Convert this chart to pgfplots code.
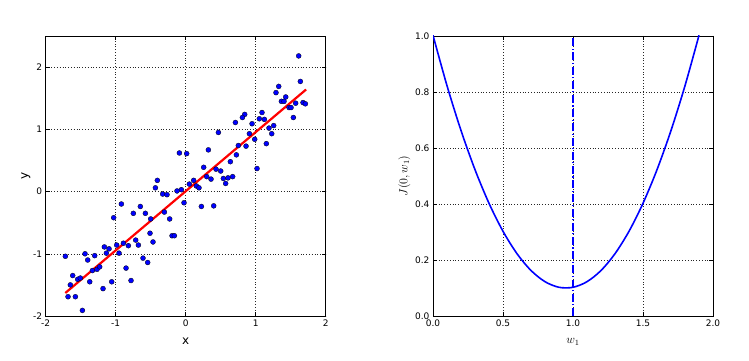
\documentclass[border=0pt]{standalone}
\usepackage[no-math]{fontspec}
\setmainfont{DejaVu Sans}
\usepackage{pgfplots}
\pgfplotsset{compat=1.18}
\begin{document}
\begin{tikzpicture}
\path[use as bounding box] (0,0) rectangle (749pt,361pt);
\pgfplotsset{
  every axis/.append style={
    scale only axis, width=280pt, height=280pt,
    axis line style={black, line width=0.8pt},
    grid=major,
    major grid style={black!85, dash pattern=on 0.8pt off 2pt, line width=0.5pt},
    tick align=inside, tick pos=both,
    major tick length=4pt,
    tick style={black, line width=0.5pt},
    tick label style={font=\fontsize{9}{10}\selectfont},
    label style={font=\fontsize{12}{13}\selectfont},
    /pgf/number format/assume math mode=true,
  }
}
\begin{axis}[
  at={(45.7pt,45pt)}, anchor=south west,
  xmin=-2, xmax=2, ymin=-2, ymax=2.5,
  xtick={-2,-1,0,1,2}, ytick={-2,-1,0,1,2},
  xlabel={x}, ylabel={y},
  xlabel style={yshift=-5pt},
  ylabel style={yshift=-4pt},
]
\addplot[only marks, mark=*, mark size=2.5pt, mark options={fill=blue, draw=black, line width=0.3pt}] coordinates {
(1.614,2.18) (1.638,1.77) (1.329,1.69) (1.290,1.59) (1.429,1.52) (1.367,1.45)
(1.405,1.45) (1.571,1.42) (1.676,1.43) (1.710,1.41) (1.476,1.35) (1.505,1.35)
(1.538,1.19) (1.090,1.27) (1.052,1.17) (1.124,1.16) (0.843,1.24) (0.810,1.19)
(0.710,1.11) (0.948,1.09) (1.257,1.06) (1.190,1.02) (1.229,0.93) (0.910,0.93)
(0.467,0.95) (0.986,0.84) (1.152,0.77) (0.752,0.74) (0.862,0.73) (0.724,0.59)
(0.324,0.67) (-0.090,0.62) (0.014,0.61) (1.019,0.37) (0.638,0.48) (0.257,0.39)
(0.433,0.36) (0.500,0.33) (0.300,0.24) (0.362,0.20) (0.538,0.21) (0.605,0.22)
(0.671,0.24) (0.571,0.13) (0.114,0.18) (-0.405,0.18) (-0.433,0.06) (0.052,0.12)
(0.152,0.09) (0.190,0.06) (-0.062,0.03) (-0.124,0.01)
(-0.329,-0.04) (-0.267,-0.05) (-0.024,-0.18) (0.224,-0.24) (0.400,-0.23)
(-0.919,-0.20) (-0.648,-0.24) (-0.748,-0.35) (-0.576,-0.35) (-0.305,-0.33)
(-1.029,-0.42) (-0.500,-0.44) (-0.229,-0.44) (-0.510,-0.67) (-0.467,-0.81)
(-0.195,-0.71) (-0.162,-0.71) (-0.714,-0.78) (-0.676,-0.86) (-0.819,-0.87)
(-0.986,-0.86) (-0.890,-0.83) (-1.162,-0.89) (-1.095,-0.92) (-1.133,-0.99)
(-0.952,-0.99) (-1.438,-1.00) (-1.300,-1.03) (-1.719,-1.04) (-1.400,-1.10)
(-0.610,-1.07) (-0.543,-1.14) (-0.852,-1.23) (-1.333,-1.27) (-1.267,-1.25)
(-1.229,-1.21) (-1.614,-1.35) (-1.543,-1.41) (-1.505,-1.39) (-1.371,-1.45)
(-1.057,-1.45) (-0.781,-1.43) (-1.648,-1.50) (-1.181,-1.56) (-1.681,-1.69)
(-1.576,-1.69) (-1.476,-1.91)
};
\addplot[red, line width=2.2pt] coordinates {(-1.72,-1.63) (1.72,1.64)};
\end{axis}
\begin{axis}[
  at={(433pt,45pt)}, anchor=south west,
  xmin=0, xmax=2, ymin=0, ymax=1,
  xtick={0,0.5,1,1.5,2}, ytick={0,0.2,0.4,0.6,0.8,1},
  xticklabel style={/pgf/number format/.cd, fixed, fixed zerofill, precision=1},
  yticklabel style={/pgf/number format/.cd, fixed, fixed zerofill, precision=1},
  xlabel={$w_1$}, ylabel={$J(0,w_1)$},
  xlabel style={yshift=-5pt},
  ylabel style={yshift=-2pt},
]
\addplot[blue, line width=1.6pt, smooth] coordinates {
(0,1.0025) (0.1,0.8225) (0.2,0.6625) (0.3,0.5225) (0.4,0.4025) (0.5,0.3025)
(0.6,0.2225) (0.7,0.1625) (0.8,0.1225) (0.9,0.1025) (1.0,0.1025) (1.1,0.1225)
(1.2,0.1625) (1.3,0.2225) (1.4,0.3025) (1.5,0.4025) (1.6,0.5225) (1.7,0.6625)
(1.8,0.8225) (1.9,1.0025)
};
\addplot[draw=blue, line width=1.05pt, dash pattern=on 8pt off 2.5pt on 1.2pt off 2.5pt] coordinates {(1,0) (1,1)};
\end{axis}
\end{tikzpicture}
\end{document}
